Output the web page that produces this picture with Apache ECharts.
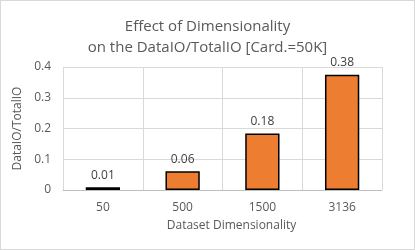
<!DOCTYPE html>
<html><head><meta charset="utf-8">
<script src="https://cdn.jsdelivr.net/npm/echarts@6/dist/echarts.min.js"></script>
<style>
html,body{margin:0;padding:0;background:#fff;}
#c{width:413px;height:248px;border:1px solid #d9d9d9;}
</style></head>
<body><div id="c"></div>
<script>
const categories = ['50', '500', '1500', '3136'];
const ratioValues = [0.009, 0.061, 0.184, 0.375];
const yTicks = [0, 0.1, 0.2, 0.3, 0.4];

const chart = echarts.init(document.getElementById('c'));
const font = 'Open Sans';
chart.setOption({
  animation: false,
  title: {
    text: 'Effect of Dimensionality\non the DataIO/TotalIO [Card.=50K]',
    left: 'center', top: 10,
    textStyle: {fontFamily: font, fontSize: 15, fontWeight: 'normal', color: '#595959', lineHeight: 21}
  },
  grid: {left: 62, right: 32, top: 66, bottom: 59},
  xAxis: {
    type: 'category', data: categories,
    name: 'Dataset Dimensionality', nameLocation: 'middle', nameGap: 30,
    nameTextStyle: {fontFamily: font, fontSize: 12, color: '#595959', padding: [0,0,0,18]},
    axisLine: {lineStyle: {color: '#bfbfbf', width: 1}},
    axisTick: {show: false},
    axisLabel: {fontFamily: font, fontSize: 12, color: '#595959', margin: 12},
    splitLine: {show: true, lineStyle: {color: '#d9d9d9'}}
  },
  yAxis: {
    type: 'value', min: 0, max: 0.4, interval: 0.1,
    name: 'DataIO/TotalIO', nameLocation: 'middle', nameGap: 34,
    nameTextStyle: {fontFamily: font, fontSize: 12, color: '#595959'},
    axisLabel: {fontFamily: font, fontSize: 12, color: '#595959', margin: 12,
      formatter: v => { const t = yTicks.find(x => Math.abs(x - v) < 1e-9); return t === 0 ? '0' : String(+(t ?? v).toFixed(1)); }},
    axisLine: {show: false}, axisTick: {show: false},
    splitLine: {lineStyle: {color: '#d9d9d9'}}
  },
  series: [{
    type: 'bar', data: ratioValues, barWidth: '43%',
    itemStyle: {color: '#ED7D31', borderColor: '#000', borderWidth: 1.5},
    label: {show: true, position: 'top', distance: 6, fontFamily: font, fontSize: 12, color: '#404040',
      formatter: p => p.value.toFixed(2)}
  }]
});
</script></body></html>
